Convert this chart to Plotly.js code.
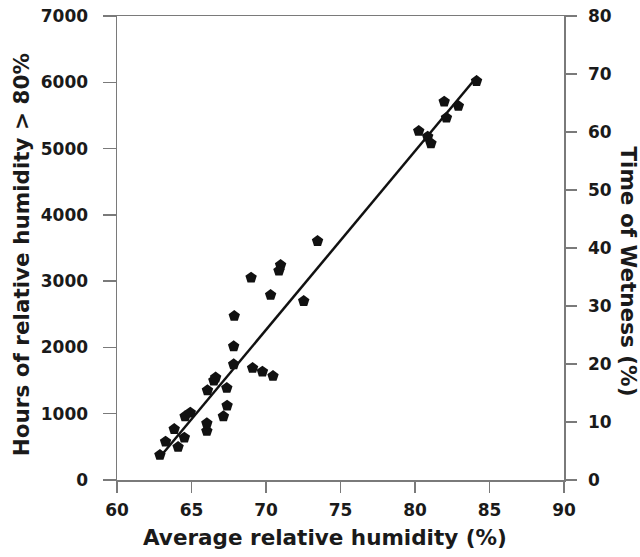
<!DOCTYPE html>
<html>
<head>
<meta charset="utf-8">
<script src="https://cdn.plot.ly/plotly-3.0.1.min.js"></script>
<style>html,body{margin:0;padding:0;background:#fff;}#chart{width:640px;height:557px;}</style>
</head>
<body>
<div id="chart"></div>
<script>
// Average relative humidity (%)
const avgRH = [62.88, 63.26, 63.84, 64.10, 64.52, 64.57, 64.92, 66.03, 66.03, 66.07, 66.50, 66.62,
  67.14, 67.39, 67.37, 67.83, 67.83, 67.87, 69.10, 69.76, 70.47, 69.00, 70.31, 70.98, 70.87,
  72.53, 73.46, 80.25, 80.85, 81.07, 81.96, 82.11, 82.91, 84.13];
// Hours of relative humidity > 80%
const hoursRH80 = [377, 578, 769, 498, 638, 961, 1015, 739, 855, 1353, 1500, 1545,
  961, 1121, 1388, 1745, 2017, 2474, 1690, 1634, 1569, 3052, 2791, 3243, 3157,
  2700, 3605, 5265, 5179, 5079, 5707, 5465, 5642, 6019];
// Fitted regression line endpoints
const fitX = [62.9, 84.2];
const fitY = [350, 6095];
const xTicks = [60, 65, 70, 75, 80, 85, 90];
const yTicks = [0, 1000, 2000, 3000, 4000, 5000, 6000, 7000];
const y2Ticks = [0, 10, 20, 30, 40, 50, 60, 70, 80];

const font = 'DejaVu Sans, Verdana, sans-serif';
const tickFont = {family: font, size: 17, color: '#1a1a1a', weight: 'bold'};
const titleFont = {family: font, size: 21.5, color: '#1a1a1a', weight: 'bold'};
const axisColor = '#7a7a7a';

const traces = [
  {x: fitX, y: fitY, mode: 'lines', line: {color: '#111', width: 2.5}, hoverinfo: 'skip', showlegend: false},
  {x: avgRH, y: hoursRH80, mode: 'markers', marker: {symbol: 'pentagon', size: 12, color: '#111'}, showlegend: false},
  {x: [60], y: [0], yaxis: 'y2', mode: 'markers', marker: {opacity: 0}, hoverinfo: 'skip', showlegend: false}
];

const layout = {
  width: 640, height: 557,
  margin: {l: 117, r: 76, t: 16, b: 77},
  paper_bgcolor: '#fff', plot_bgcolor: '#fff',
  xaxis: {
    range: [60, 90], tickvals: xTicks, ticktext: xTicks.map(String),
    showgrid: false, zeroline: false, showline: true, linecolor: axisColor, linewidth: 1.5,
    mirror: true, ticks: 'outside', ticklen: 11, tickcolor: axisColor, tickwidth: 1.5,
    tickfont: tickFont, ticklabelstandoff: 3,
    title: {text: ''}
  },
  yaxis: {
    range: [0, 7000], tickvals: yTicks, ticktext: yTicks.map(String),
    showgrid: false, zeroline: false, showline: true, linecolor: axisColor, linewidth: 1.5,
    ticks: 'outside', ticklen: 13, tickcolor: axisColor, tickwidth: 1.5,
    tickfont: tickFont, ticklabelstandoff: 11
  },
  yaxis2: {
    range: [0, 80], tickvals: y2Ticks, ticktext: y2Ticks.map(String),
    overlaying: 'y', side: 'right',
    showgrid: false, zeroline: false, showline: true, linecolor: axisColor, linewidth: 1.5,
    ticks: 'outside', ticklen: 11, tickcolor: axisColor, tickwidth: 1.5,
    tickfont: tickFont, ticklabelstandoff: 8
  },
  annotations: [{
    text: 'Average relative humidity (%)', xref: 'paper', yref: 'paper', x: 0.465, y: -0.123,
    xanchor: 'center', yanchor: 'middle', showarrow: false, font: titleFont
  }, {
    text: 'Hours of relative humidity > 80%', xref: 'paper', yref: 'paper', x: -0.212, y: 0.485,
    xanchor: 'center', yanchor: 'middle', textangle: -90, showarrow: false, font: titleFont
  }, {
    text: 'Time of Wetness (%)', xref: 'paper', yref: 'paper', x: 1.145, y: 0.45,
    xanchor: 'center', yanchor: 'middle', textangle: 90, showarrow: false, font: titleFont
  }]
};

Plotly.newPlot('chart', traces, layout, {displayModeBar: false, staticPlot: true});
</script>
</body>
</html>
